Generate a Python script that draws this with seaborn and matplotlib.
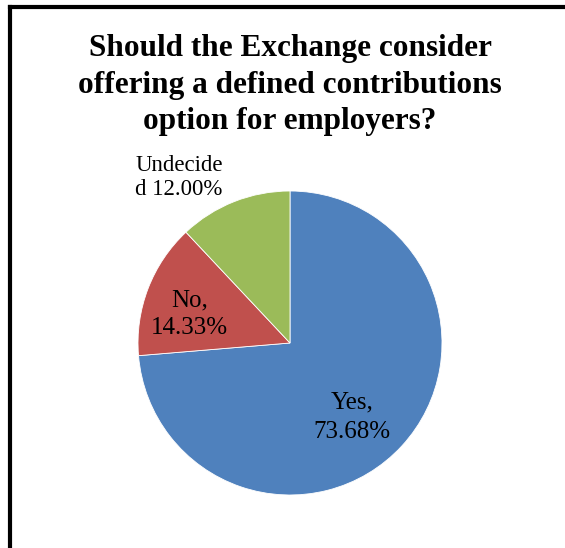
import matplotlib
matplotlib.use("Agg")
import matplotlib.pyplot as plt
from matplotlib.lines import Line2D
import seaborn as sns

# Survey responses
categories = ["Yes", "No", "Undecided"]
shares = [73.68, 14.33, 12.00]
label_texts = ["Yes,\n73.68%", "No,\n14.33%", "Undecide\nd 12.00%"]
title_text = "Should the Exchange consider\noffering a defined contributions\noption for employers?"

sns.set_theme(style="white")
plt.rcParams["font.family"] = ["Liberation Serif", "DejaVu Serif"]

colors = sns.color_palette(["#4F81BD", "#C0504D", "#9BBB59"])

W, H = 565, 548
fig = plt.figure(figsize=(W / 100, H / 100), dpi=100)
fig.patch.set_facecolor("white")

# Pie axes: centre (290, 343) px, radius 152 px
cx, cy, r = 290, 343, 152
ax = fig.add_axes([(cx - r) / W, (H - cy - r) / H, 2 * r / W, 2 * r / H])
wedges, _ = ax.pie(shares, colors=colors, startangle=90, counterclock=False,
                   wedgeprops=dict(edgecolor="white", linewidth=0.6))
ax.set_xlim(-1, 1)
ax.set_ylim(-1, 1)
ax.set_aspect("equal")
ax.axis("off")

# Data labels
label_pos = [(0.41, -0.49), (-0.66, 0.19), (-0.73, 1.09)]
label_sizes = [18, 18, 16.5]
label_spacing = [1.45, 1.3, 1.22]
for (x, y), txt, fs, ls in zip(label_pos, label_texts, label_sizes, label_spacing):
    ax.text(x, y, txt, ha="center", va="center", fontsize=fs,
            color="black", linespacing=ls, clip_on=False)

# Title
fig.text(290 / W, 1 - 85 / H, title_text, ha="center", va="center",
         fontsize=22.5, fontweight="bold", color="black", linespacing=1.32)

# Chart frame (left and top edges)
fx, fy = 10 / W, 1 - 7 / H
fig.add_artist(Line2D([fx, fx], [0, fy], transform=fig.transFigure,
                      color="black", linewidth=3, solid_capstyle="projecting"))
fig.add_artist(Line2D([fx, 1], [fy, fy], transform=fig.transFigure,
                      color="black", linewidth=3, solid_capstyle="projecting"))

fig.savefig("out.png", dpi=100, facecolor="white")
